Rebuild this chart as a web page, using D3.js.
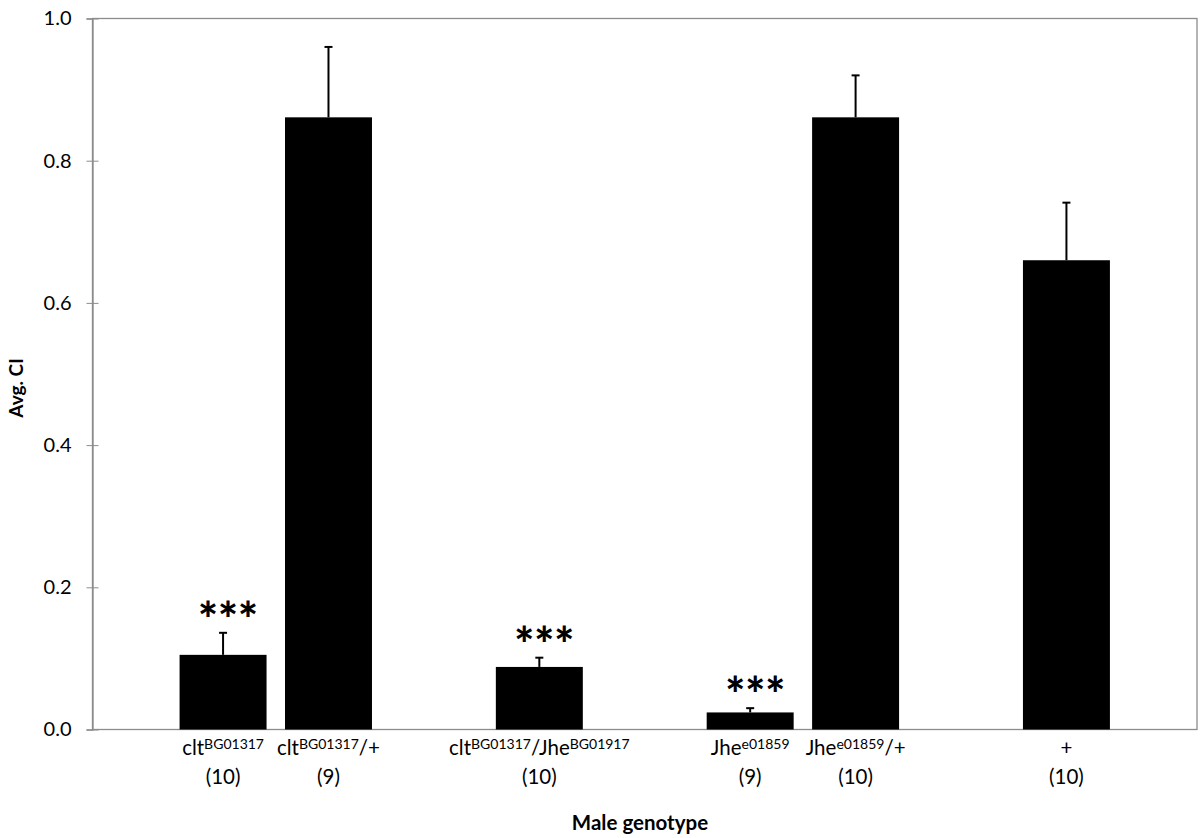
<!DOCTYPE html>
<html>
<head>
<meta charset="utf-8">
<script src="https://cdn.jsdelivr.net/npm/d3@7"></script>
<style>
body { margin: 0; background: #fff; }
text { font-family: Lato, "Open Sans", sans-serif; fill: #000; }
</style>
</head>
<body>
<div id="chart"></div>
<script>
// genotype names, superscript parts in braces; empty strings are the blank slots
var genotypes = ["clt{BG01317}", "clt{BG01317}/+", "", "clt{BG01317}/Jhe{BG01917}", "", "Jhe{e01859}", "Jhe{e01859}/+", "", "+"];
var nFlies = ["(10)", "(9)", "", "(10)", "", "(9)", "(10)", "", "(10)"];
var avgCI = [0.105, 0.861, null, 0.088, null, 0.024, 0.861, null, 0.660];
var errCI = [0.031, 0.099, null, 0.013, null, 0.006, 0.059, null, 0.081];
var stars = ["***", "", "", "***", "", "***", "", "", ""];
var yTicks = [0, 0.2, 0.4, 0.6, 0.8, 1.0];

var width = 1200, height = 838;
var plot = {left: 92.5, top: 18.5, right: 1197, bottom: 729.5};

var svg = d3.select("#chart").append("svg")
	.attr("width", width)
	.attr("height", height);

var x = d3.scaleBand()
	.domain(d3.range(genotypes.length))
	.range([plot.left, plot.right])
	.paddingInner(0.175)
	.paddingOuter(0.826);

var y = d3.scaleLinear()
	.domain([0, 1])
	.range([plot.bottom, plot.top]);

// plot frame
svg.append("rect")
	.attr("x", plot.left)
	.attr("y", plot.top)
	.attr("width", plot.right - plot.left)
	.attr("height", plot.bottom - plot.top)
	.attr("fill", "none")
	.attr("stroke", "#8c8c8c")
	.attr("stroke-width", 1.3);

// y axis, ticks crossing the line
var yAxis = svg.append("g")
	.attr("transform", "translate(" + plot.left + ",0)")
	.call(d3.axisLeft(y).tickValues(yTicks).tickSize(6).tickPadding(15).tickFormat(d3.format(".1f")));
yAxis.select(".domain").attr("stroke", "#8c8c8c").attr("stroke-width", 1.3);
yAxis.selectAll(".tick line").attr("x1", -6).attr("x2", 6).attr("stroke", "#8c8c8c");
yAxis.selectAll(".tick text")
	.style("font-family", "Lato, 'Open Sans', sans-serif")
	.style("font-size", "20px")
	.attr("fill", "#000");

var data = avgCI.map(function(v, i) {
	return {i: i, v: v, e: errCI[i], name: genotypes[i], n: nFlies[i], s: stars[i]};
});
var filled = data.filter(function(d) { return d.v !== null; });

// bars
svg.append("g").selectAll("rect")
	.data(filled)
	.enter()
	.append("rect")
	.attr("x", function(d) { return x(d.i); })
	.attr("y", function(d) { return y(d.v); })
	.attr("width", x.bandwidth())
	.attr("height", function(d) { return y(0) - y(d.v); })
	.attr("fill", "#000");

// upper error bars
var err = svg.append("g").attr("stroke", "#000").attr("stroke-width", 2);
err.selectAll("line.v")
	.data(filled)
	.enter()
	.append("line")
	.attr("class", "v")
	.attr("x1", function(d) { return x(d.i) + x.bandwidth() / 2; })
	.attr("x2", function(d) { return x(d.i) + x.bandwidth() / 2; })
	.attr("y1", function(d) { return y(d.v); })
	.attr("y2", function(d) { return y(d.v + d.e); });
err.selectAll("line.cap")
	.data(filled)
	.enter()
	.append("line")
	.attr("class", "cap")
	.attr("x1", function(d) { return x(d.i) + x.bandwidth() / 2 - 4; })
	.attr("x2", function(d) { return x(d.i) + x.bandwidth() / 2 + 4; })
	.attr("y1", function(d) { return y(d.v + d.e); })
	.attr("y2", function(d) { return y(d.v + d.e); });

// significance stars
svg.append("g").selectAll("text")
	.data(filled.filter(function(d) { return d.s; }))
	.enter()
	.append("text")
	.attr("x", function(d) { return x(d.i) + x.bandwidth() / 2 + 5; })
	.attr("y", function(d) { return y(d.v + d.e) + 4; })
	.attr("text-anchor", "middle")
	.style("font-size", "47px")
	.style("font-weight", "900")
	.text(function(d) { return d.s; });

// category labels with superscripts
var labels = svg.append("g").selectAll("g")
	.data(filled)
	.enter()
	.append("g")
	.attr("transform", function(d) { return "translate(" + (x(d.i) + x.bandwidth() / 2) + ",0)"; });

labels.append("text")
	.attr("y", 755)
	.attr("text-anchor", "middle")
	.style("font-size", "20.5px")
	.each(function(d) {
		var t = d3.select(this);
		var parts = d.name.split(/(\{[^}]*\})/).filter(function(p) { return p.length; });
		var raised = false;
		parts.forEach(function(p) {
			if (p.charAt(0) === "{") {
				t.append("tspan").attr("dy", -6).style("font-size", "14px").text(p.slice(1, -1));
				raised = true;
			} else {
				t.append("tspan").attr("dy", raised ? 6 : 0).text(p);
				raised = false;
			}
		});
	});

labels.append("text")
	.attr("y", 784)
	.attr("text-anchor", "middle")
	.style("font-size", "20.5px")
	.text(function(d) { return d.n; });

// axis titles
svg.append("text")
	.attr("x", 640)
	.attr("y", 830)
	.attr("text-anchor", "middle")
	.style("font-size", "20.5px")
	.style("font-weight", "bold")
	.text("Male genotype");

svg.append("text")
	.attr("transform", "translate(23,388) rotate(-90)")
	.attr("text-anchor", "middle")
	.style("font-size", "19px")
	.style("font-weight", "bold")
	.text("Avg. CI");
</script>
</body>
</html>
